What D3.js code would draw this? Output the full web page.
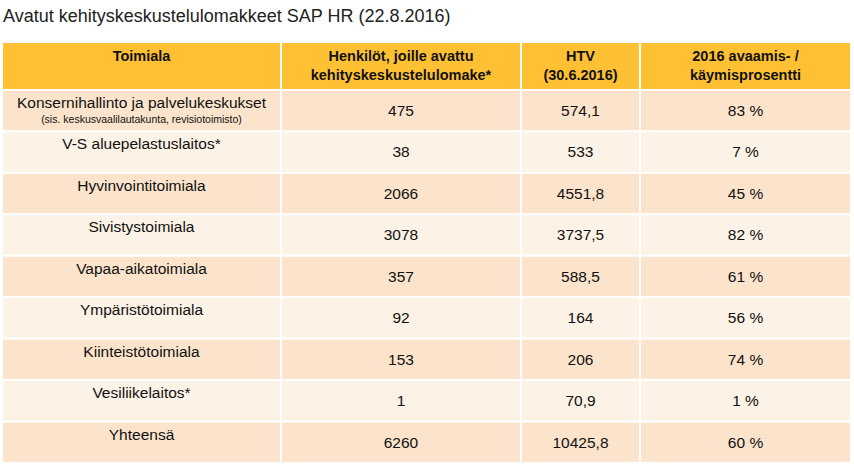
<!DOCTYPE html>
<html><head><meta charset="utf-8">
<script src="https://cdn.jsdelivr.net/npm/d3@7"></script>
<style>body{margin:0;background:#fff}svg{font-family:Arial,"Liberation Sans",sans-serif}</style>
</head><body><svg width="854" height="471"></svg>
<script>
var headers = [["Toimiala"], ["Henkilöt, joille avattu", "kehityskeskustelulomake*"], ["HTV", "(30.6.2016)"], ["2016 avaamis- /", "käymisprosentti"]];
var units = ["Konsernihallinto ja palvelukeskukset", "V-S aluepelastuslaitos*", "Hyvinvointitoimiala", "Sivistystoimiala", "Vapaa-aikatoimiala", "Ympäristötoimiala", "Kiinteistötoimiala", "Vesiliikelaitos*", "Yhteensä"];
var persons = ["475", "38", "2066", "3078", "357", "92", "153", "1", "6260"];
var htv = ["574,1", "533", "4551,8", "3737,5", "588,5", "164", "206", "70,9", "10425,8"];
var pct = ["83 %", "7 %", "45 %", "82 %", "61 %", "56 %", "74 %", "1 %", "60 %"];

var svg = d3.select("svg");
svg.append("text").attr("x", 3).attr("y", 22).attr("font-size", 18).attr("fill", "#222")
	.text("Avatut kehityskeskustelulomakkeet SAP HR (22.8.2016)");

var colX = [2, 281, 521, 640, 851];
var y = d3.scaleBand().domain(d3.range(units.length)).range([90, 463]);

// header
for (var c = 0; c < 4; c++) {
	svg.append("rect").attr("x", colX[c]).attr("y", 42).attr("width", colX[c+1] - colX[c]).attr("height", 48)
		.attr("fill", "#FFC133").attr("stroke", "#fff").attr("stroke-width", 2);
	var t = svg.append("text").attr("text-anchor", "middle").attr("font-weight", "bold").attr("font-size", 14.5)
		.attr("x", (colX[c] + colX[c+1]) / 2).attr("fill", "#111");
	headers[c].forEach(function(l, i){
		t.append("tspan").attr("x", (colX[c] + colX[c+1]) / 2).attr("y", 61 + i * 19).text(l);
	});
}

var cols = [units, persons, htv, pct];
units.forEach(function(u, r){
	for (var c = 0; c < 4; c++) {
		svg.append("rect").attr("x", colX[c]).attr("y", y(r)).attr("width", colX[c+1] - colX[c]).attr("height", y.bandwidth())
			.attr("fill", r % 2 ? "#FDF2E6" : "#FCE4CC").attr("stroke", "#fff").attr("stroke-width", 2);
		var cx = (colX[c] + colX[c+1]) / 2;
		svg.append("text").attr("x", cx).attr("y", y(r) + (c == 0 ? 18 : 26))
			.attr("text-anchor", "middle").attr("font-size", 15.5).attr("fill", "#111").text(cols[c][r]);
	}
});
svg.append("text").attr("x", (colX[0] + colX[1]) / 2).attr("y", y(0) + 33).attr("text-anchor", "middle")
	.attr("font-size", 10.5).attr("fill", "#111").text("(sis. keskusvaalilautakunta, revisiotoimisto)");
svg.select("tspan").filter(function(){ return false; });
</script></body></html>
